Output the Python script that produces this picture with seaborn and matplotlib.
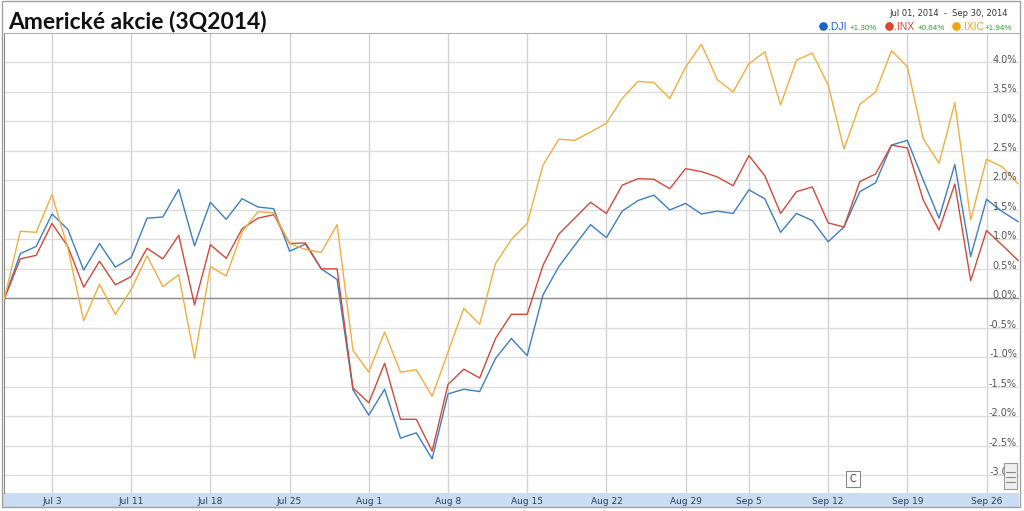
"""
Americké akcie (3Q2014) - .DJI / .INX / .IXIC, % change since Jun 30 close
"""

import numpy as np
import pandas as pd
import matplotlib
matplotlib.use("Agg")
import matplotlib.pyplot as plt
from matplotlib.patches import Rectangle
from matplotlib.lines import Line2D
import seaborn as sns

# trading-day index 0 = baseline (Jun 30 close), 1..64 = Jul 1 .. Sep 30
tick_days = [3, 8, 13, 18, 23, 28, 33, 38, 43, 47, 52, 57, 62]
tick_labels = ["Jul 3", "Jul 11", "Jul 18", "Jul 25", "Aug 1", "Aug 8", "Aug 15",
               "Aug 22", "Aug 29", "Sep 5", "Sep 12", "Sep 19", "Sep 26"]

dji = [0.00, 0.76, 0.88, 1.43, 1.17, 0.48, 0.93, 0.53, 0.69, 1.36,
       1.38, 1.85, 0.89, 1.63, 1.34, 1.69, 1.55, 1.52, 0.80, 0.92,
       0.50, 0.32, -1.55, -1.98, -1.54, -2.37, -2.28, -2.72, -1.62, -1.54,
       -1.58, -1.02, -0.68, -0.97, 0.06, 0.54, 0.90, 1.25, 1.03, 1.48,
       1.66, 1.75, 1.50, 1.61, 1.43, 1.48, 1.44, 1.84, 1.69, 1.12,
       1.44, 1.32, 0.96, 1.21, 1.81, 1.96, 2.60, 2.68, 2.01, 1.36,
       2.27, 0.71, 1.68, 1.47, 1.30]
inx = [0.00, 0.67, 0.73, 1.27, 0.88, 0.19, 0.63, 0.23, 0.37, 0.85,
       0.67, 1.07, -0.11, 0.91, 0.68, 1.18, 1.36, 1.42, 0.93, 0.94,
       0.50, 0.50, -1.52, -1.77, -1.10, -2.05, -2.05, -2.59, -1.46, -1.20,
       -1.35, -0.68, -0.27, -0.27, 0.56, 1.09, 1.36, 1.63, 1.44, 1.92,
       2.03, 2.02, 1.86, 2.20, 2.15, 2.06, 1.91, 2.42, 2.08, 1.44,
       1.81, 1.89, 1.28, 1.21, 1.98, 2.11, 2.60, 2.55, 1.67, 1.16,
       1.94, 0.30, 1.15, 0.90, 0.64]
ixic = [0.00, 1.14, 1.12, 1.76, 0.85, -0.38, 0.24, -0.27, 0.15, 0.72,
        0.20, 0.40, -1.02, 0.54, 0.38, 1.13, 1.47, 1.45, 0.93, 0.83,
        0.78, 1.25, -0.88, -1.25, -0.57, -1.25, -1.21, -1.66, -0.91, -0.17,
        -0.44, 0.59, 1.00, 1.27, 2.26, 2.70, 2.68, 2.82, 2.97, 3.39,
        3.68, 3.66, 3.39, 3.92, 4.31, 3.71, 3.50, 3.98, 4.18, 3.28,
        4.04, 4.16, 3.62, 2.53, 3.29, 3.50, 4.20, 3.93, 2.71, 2.29,
        3.32, 1.33, 2.36, 2.23, 1.94]

names = [".DJI", ".INX", ".IXIC"]
line_colors = {".DJI": "#3d7fc1", ".INX": "#d04a3b", ".IXIC": "#f2ae3c"}
dot_colors = {".DJI": "#1b63c8", ".INX": "#d9452e", ".IXIC": "#f4a30a"}

days = list(range(len(dji)))
df = pd.DataFrame({"day": days, ".DJI": dji, ".INX": inx, ".IXIC": ixic})
long = df.melt(id_vars="day", var_name="index", value_name="change")

sns.set_style("white")
plt.rcParams["font.family"] = ["DejaVu Sans"]

W, H = 1024, 511
fig = plt.figure(figsize=(W / 100, H / 100), dpi=100)


def fx(px):
    return px / W


def fy(py):
    return 1 - py / H


ax = fig.add_axes([fx(4), fy(493), fx(1019) - fx(4), fy(33) - fy(493)])
sns.lineplot(data=long, x="day", y="change", hue="index", palette=line_colors,
             linewidth=1.0, legend=False, ax=ax, zorder=3)
ax.set_xlim(-0.03, 64.05)
ax.set_ylim(-3.30, 4.50)
ax.set_xlabel("")
ax.set_ylabel("")

# grid
yticks = np.arange(-3.0, 4.01, 0.5)
ax.set_yticks(yticks)
ax.set_xticks(tick_days, labels=tick_labels)
ax.set_xticks(days[1:], minor=True)
ax.set_axisbelow(True)
ax.yaxis.grid(True, color="#dedede", lw=1.0)
ax.xaxis.grid(True, which="major", color="#d2d2d2", lw=1.0)
ax.axhline(0, color="#8c8c8c", lw=1.0, zorder=2)

ax.tick_params(axis="y", length=0, labelleft=False)
ax.tick_params(axis="x", which="major", direction="in", length=6, width=0.8,
               color="#666666", labelsize=6.5, labelcolor="#2b3f5a", pad=3)
ax.tick_params(axis="x", which="minor", direction="in", length=3, width=0.8,
               color="#666666")

for v in yticks:
    ax.text(0.998, v + 0.05, f"{v:.1f}%", transform=ax.get_yaxis_transform(),
            ha="right", va="center", fontsize=7, color="#555555", zorder=4)

for side in ["right", "bottom"]:
    ax.spines[side].set_visible(False)
ax.spines["left"].set_color("#888888")
ax.spines["top"].set_color("#b0b0b0")

# date bar + outer frame
fig.patches.append(Rectangle((fx(3), fy(507)), fx(1019) - fx(3), fy(493) - fy(507),
                             transform=fig.transFigure, facecolor="#c9dcf1",
                             edgecolor="none", zorder=-1))
fig.patches.append(Rectangle((fx(2), fy(507)), fx(1020) - fx(2), fy(1) - fy(507),
                             transform=fig.transFigure, fill=False,
                             edgecolor="#a0a0a0", lw=1.0, zorder=6))

# title
fig.text(fx(8), fy(28), "Americké akcie (3Q2014)", fontsize=16.5, fontweight="bold",
         family=["Lato", "DejaVu Sans"], color="#111111", va="baseline")

# top-right range and legend
fig.text(fx(1008), fy(16), "Jul 01, 2014  -  Sep 30, 2014", fontsize=6,
         color="#333333", ha="right", va="baseline")

finals = {".DJI": dji[-1], ".INX": inx[-1], ".IXIC": ixic[-1]}
dot_x = {".DJI": 823, ".INX": 889, ".IXIC": 956}
name_x = {".DJI": 828, ".INX": 894, ".IXIC": 961}
pct_x = {".DJI": 850, ".INX": 918, ".IXIC": 985}
for name in names:
    fig.add_artist(Line2D([fx(dot_x[name])], [fy(26)], marker="o", ms=5.2,
                          color=dot_colors[name], transform=fig.transFigure))
    fig.text(fx(name_x[name]), fy(30), name, fontsize=7.5, color=dot_colors[name],
             family=["Liberation Sans", "DejaVu Sans"], va="baseline")
    fig.text(fx(pct_x[name]), fy(30), f"{finals[name]:+.2f}%", fontsize=5.8,
             color="#3a9a3a", family=["Liberation Sans", "DejaVu Sans"], va="baseline")

# small chart buttons
fig.text(fx(853), fy(479), "C", fontsize=7, ha="center", va="center", color="#444444",
         bbox=dict(boxstyle="square,pad=0.35", fc="white", ec="#888888", lw=0.8))
fig.patches.append(Rectangle((fx(1004), fy(489)), fx(13), fy(0) - fy(26),
                             transform=fig.transFigure, facecolor="#efefef",
                             edgecolor="#999999", lw=0.8, zorder=7))
for yy in [472, 477, 482]:
    fig.add_artist(Line2D([fx(1006), fx(1015)], [fy(yy), fy(yy)], color="#888888",
                          lw=0.8, transform=fig.transFigure, zorder=8))

fig.savefig("out.png", dpi=100)
print("Saved: out.png")
